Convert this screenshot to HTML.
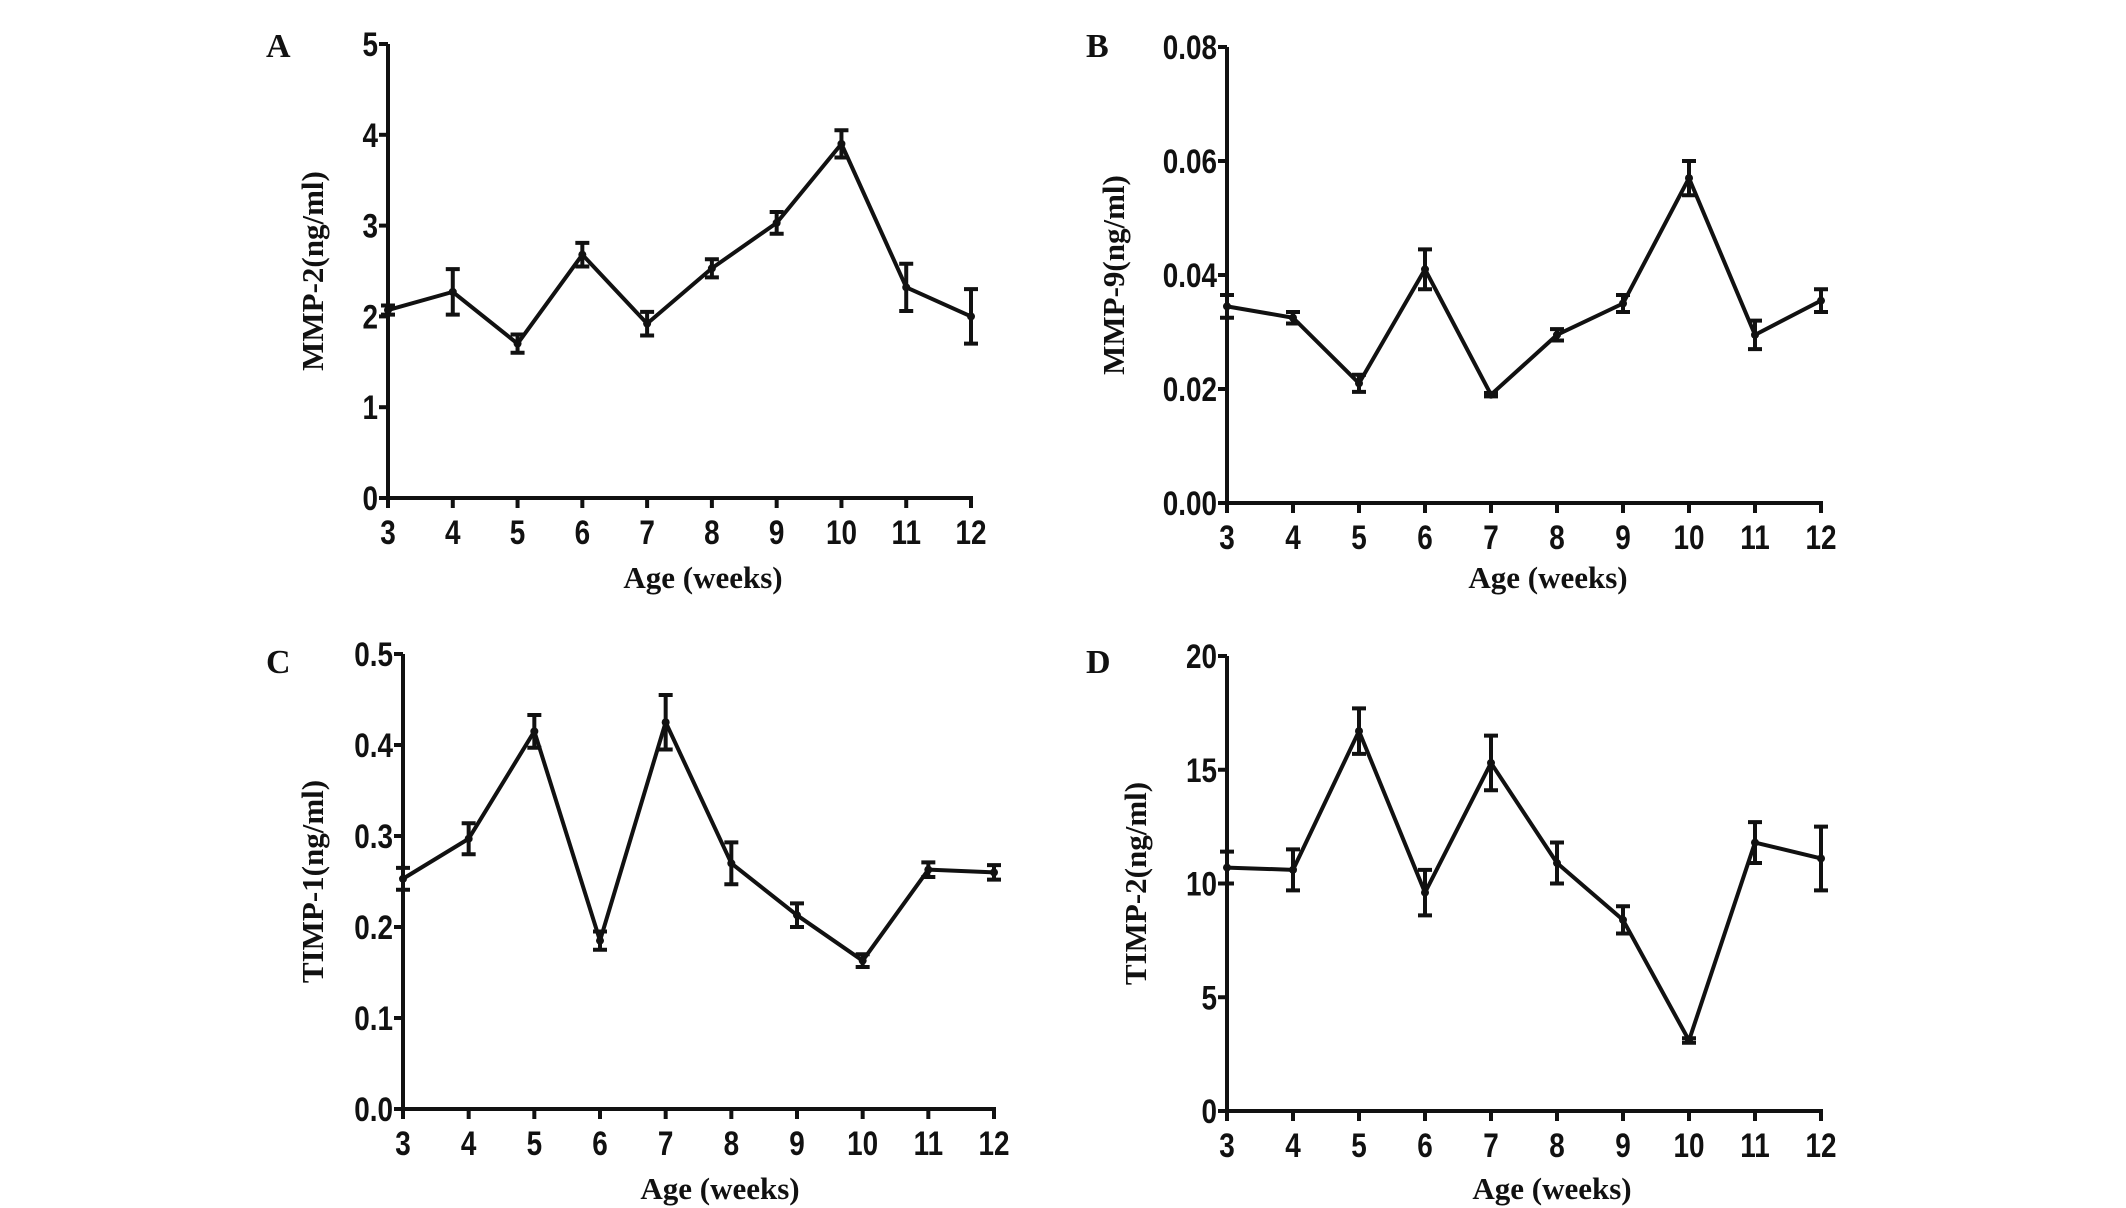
<!DOCTYPE html>
<html><head><meta charset="utf-8"><style>
html,body{margin:0;padding:0;background:#fff}
svg{display:block}
.tk{font-family:"Liberation Sans",sans-serif;font-weight:bold;font-size:34px;fill:#111}
.ti{font-family:"Liberation Serif",serif;font-weight:bold;font-size:31px;fill:#111}
.pl{font-family:"Liberation Serif",serif;font-weight:bold;font-size:34px;fill:#111}
</style></head><body>
<svg id="fig" width="2126" height="1208" viewBox="0 0 2126 1208" xmlns="http://www.w3.org/2000/svg"></svg>
<script>
const weeks = [3,4,5,6,7,8,9,10,11,12];
const mmp2 = [2.07,2.27,1.7,2.68,1.92,2.53,3.03,3.9,2.32,2.0];
const mmp2Err = [0.05,0.25,0.1,0.13,0.13,0.1,0.12,0.15,0.26,0.3];
const mmp9 = [0.0345,0.0325,0.021,0.041,0.019,0.0295,0.035,0.057,0.0295,0.0355];
const mmp9Err = [0.002,0.001,0.0015,0.0035,0.0003,0.001,0.0015,0.003,0.0025,0.002];
const timp1 = [0.253,0.297,0.415,0.185,0.425,0.27,0.213,0.163,0.263,0.26];
const timp1Err = [0.012,0.017,0.018,0.01,0.03,0.023,0.013,0.007,0.008,0.008];
const timp2 = [10.7,10.6,16.7,9.6,15.3,10.9,8.4,3.1,11.8,11.1];
const timp2Err = [0.7,0.9,1.0,1.0,1.2,0.9,0.6,0.1,0.9,1.4];
const ticksA = ["0","1","2","3","4","5"];
const ticksB = ["0.00","0.02","0.04","0.06","0.08"];
const ticksC = ["0.0","0.1","0.2","0.3","0.4","0.5"];
const ticksD = ["0","5","10","15","20"];

const NS="http://www.w3.org/2000/svg";
const svg=document.getElementById('fig');
function mk(tag,attrs,parent){const e=document.createElementNS(NS,tag);for(const k in attrs)e.setAttribute(k,attrs[k]);(parent||svg).appendChild(e);return e;}

function panel(cfg){
  const g=mk('g',{});
  
  
  const x0=cfg.x0,x1=cfg.x1,y0=cfg.y0,y1=cfg.y1;
  const ymax=parseFloat(cfg.ticks[cfg.ticks.length-1]);
  const sx=v=>x0+(v-weeks[0])/(weeks[weeks.length-1]-weeks[0])*(x1-x0);
  const sy=v=>y0-(v/ymax)*(y0-y1);
  const ya=mk('line',{x1:x0,y1:y1,x2:x0,y2:y0+2,stroke:'#111','stroke-width':4},g);
  
  const xa=mk('line',{x1:x0-2,y1:y0,x2:x1+2,y2:y0,stroke:'#111','stroke-width':4},g);
  
  cfg.ticks.forEach(t=>{
    const y=sy(parseFloat(t));
    mk('line',{x1:x0-9,y1:y,x2:x0,y2:y,stroke:'#111','stroke-width':4},g);
    const tx=mk('text',{x:0,y:0,class:'tk','text-anchor':'end',transform:`translate(${x0-10},${y+12}) scale(0.82,1)`},g);
    tx.textContent=t;
    
    
  });
  weeks.forEach(w=>{
    const x=sx(w);
    mk('line',{x1:x,y1:y0,x2:x,y2:y0+10,stroke:'#111','stroke-width':4},g);
    const tx=mk('text',{x:0,y:0,class:'tk','text-anchor':'middle',transform:`translate(${x},${y0+46}) scale(0.82,1)`},g);
    tx.textContent=String(w);
    
    
  });
  const pts=weeks.map((w,i)=>sx(w)+','+sy(cfg.vals[i])).join(' ');
  const pl=mk('polyline',{points:pts,fill:'none',stroke:'#111','stroke-width':4,'stroke-linejoin':'round'},g);
  
  weeks.forEach((w,i)=>{
    const x=sx(w),v=cfg.vals[i],e=cfg.errs[i];
    const yt=sy(v+e),yb=sy(v-e);
    const eb=mk('path',{d:`M${x},${yt}V${yb}M${x-7},${yt}H${x+7}M${x-7},${yb}H${x+7}`,stroke:'#111','stroke-width':4,fill:'none'},g);
    
    const c=mk('circle',{cx:x,cy:sy(v),r:4,fill:'#111'},g);
    
  });
  const xt=mk('text',{x:cfg.xtX,y:cfg.xtY,class:'ti','text-anchor':'middle'},g);
  xt.textContent='Age (weeks)';
  
  const yt=mk('text',{x:0,y:0,class:'ti','text-anchor':'middle',transform:`translate(${cfg.ytX},${(y0+y1)/2}) rotate(-90)`},g);
  yt.textContent=cfg.ylabel;
  
  const lt=mk('text',{x:cfg.lx,y:cfg.ly,class:'pl'},g);
  lt.textContent=cfg.id;
  
}
panel({id:'A',x0:388,x1:971,y0:498,y1:44,ticks:ticksA,vals:mmp2,errs:mmp2Err,ylabel:'MMP-2(ng/ml)',xtX:703,xtY:588,ytX:323,lx:266,ly:57});
panel({id:'B',x0:1227,x1:1821,y0:503,y1:47,ticks:ticksB,vals:mmp9,errs:mmp9Err,ylabel:'MMP-9(ng/ml)',xtX:1548,xtY:588,ytX:1124,lx:1086,ly:57});
panel({id:'C',x0:403,x1:994,y0:1109,y1:654,ticks:ticksC,vals:timp1,errs:timp1Err,ylabel:'TIMP-1(ng/ml)',xtX:720,xtY:1199,ytX:323,lx:266,ly:673});
panel({id:'D',x0:1227,x1:1821,y0:1111,y1:656,ticks:ticksD,vals:timp2,errs:timp2Err,ylabel:'TIMP-2(ng/ml)',xtX:1552,xtY:1199,ytX:1146,lx:1086,ly:673});
</script>
</body></html>
